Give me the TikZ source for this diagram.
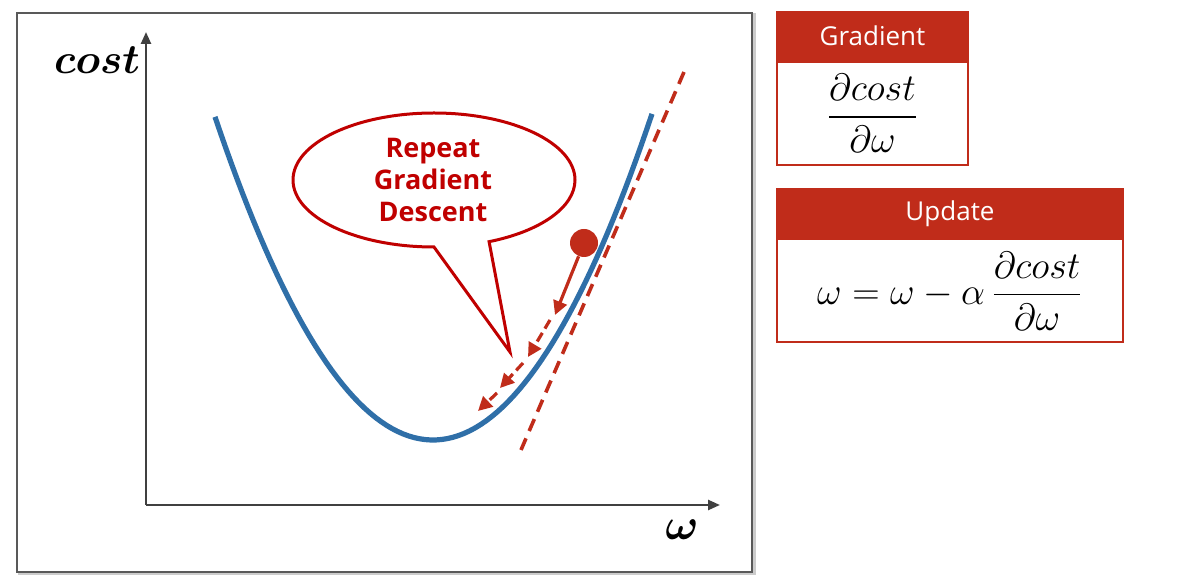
\RequirePackage{fix-cm}
\documentclass[tikz,border=0pt]{standalone}
\usepackage{amsmath}
\usepackage{amssymb}
\usepackage{bm}
\usepackage{fontspec}
\setsansfont{Open Sans}
\usetikzlibrary{positioning,arrows.meta}

\definecolor{axisgray}{RGB}{64,64,64}
\definecolor{curveblue}{RGB}{47,111,168}
\definecolor{bubblered}{RGB}{192,0,0}
\definecolor{stepred}{RGB}{192,44,26}

\tikzset{
  headbox/.style={draw=stepred, fill=stepred, text=white, line width=1pt,
    font=\sffamily\fontsize{13}{15}\selectfont, minimum height=24pt, inner sep=0pt},
  bodybox/.style={draw=stepred, fill=white, line width=1pt, minimum height=51.5pt,
    inner sep=0pt, font=\fontsize{19}{22}\selectfont},
  axisline/.style={draw=axisgray, line width=1.2pt, -{Triangle[length=6pt,width=5pt]}},
  gdarrow/.style={stepred, line width=1.6pt, -{Triangle[length=7pt,width=7pt]}},
  gdstep/.style={gdarrow, dash pattern=on 5pt off 2.5pt},
}

\begin{document}
\begin{tikzpicture}[x=0.5pt,y=-0.5pt]
\useasboundingbox (0,0) rectangle (1190,582);

% frame
\draw[black!20, line width=1.5pt] (19,15) rectangle (754,574);
\draw[black!65, line width=0.8pt, fill=white] (17,13) rectangle (752,572);

% axes
\coordinate (origin) at (146,505);
\coordinate (ytip) at (146,32);
\coordinate (xtip) at (720,505);
\draw[axisline] (origin) -- (ytip);
\draw[axisline] (origin) -- (xtip);
\node[font=\fontsize{21}{25}\selectfont] (costlabel) at (97,60) {$\boldsymbol{cost}$};
\node[font=\fontsize{22}{26}\selectfont] (wlabel) at (682,530) {$\boldsymbol{\omega}$};

% cost curve
\draw[curveblue, line width=2.6pt] plot[domain=215:652, samples=80] (\x, {440-0.68*((\x-433)/10)^2});

% tangent
\coordinate (tantop) at (684,72);
\coordinate (tanbot) at (521,450);
\draw[stepred, line width=1.8pt, dash pattern=on 6.5pt off 4pt] (tantop) -- (tanbot);

% ball and steps
\node[circle, fill=stepred, minimum size=14pt, inner sep=0pt] (ball) at (584,243) {};
\coordinate (s1) at (555,315);
\coordinate (s2a) at (550,320);
\coordinate (s2) at (528,357);
\coordinate (s3a) at (523,363);
\coordinate (s3) at (500,388);
\coordinate (s4a) at (497,393);
\coordinate (s4) at (478,411);
\draw[gdarrow] (ball) -- (s1);
\draw[gdstep] (s2a) -- (s2);
\draw[gdstep] (s3a) -- (s3);
\draw[gdstep] (s4a) -- (s4);

% speech bubble
\coordinate (tip) at (510,352);
\draw[bubblered, line width=1.5pt, fill=white, line join=miter]
  (tip) -- (434,247) arc[start angle=90, end angle=427, x radius=141, y radius=67] -- cycle;
\node[text=bubblered, font=\sffamily\bfseries\fontsize{13.5}{16}\selectfont, align=center]
  (bubbletext) at (433,180) {Repeat\\Gradient\\Descent};

% boxes
\node[headbox, minimum width=95.5pt] (gradhead) at (872.5,36) {Gradient};
\node[bodybox, minimum width=95.5pt, below=0pt of gradhead] (gradbody)
  {$\dfrac{\partial cost}{\partial \omega}$};
\node[headbox, minimum width=173pt] (updhead) at (950,213.5) {Update};
\node[bodybox, minimum width=173pt, below=0pt of updhead] (updbody)
  {$\omega = \omega - \alpha\,\dfrac{\partial cost}{\partial\omega}$};
\end{tikzpicture}
\end{document}
